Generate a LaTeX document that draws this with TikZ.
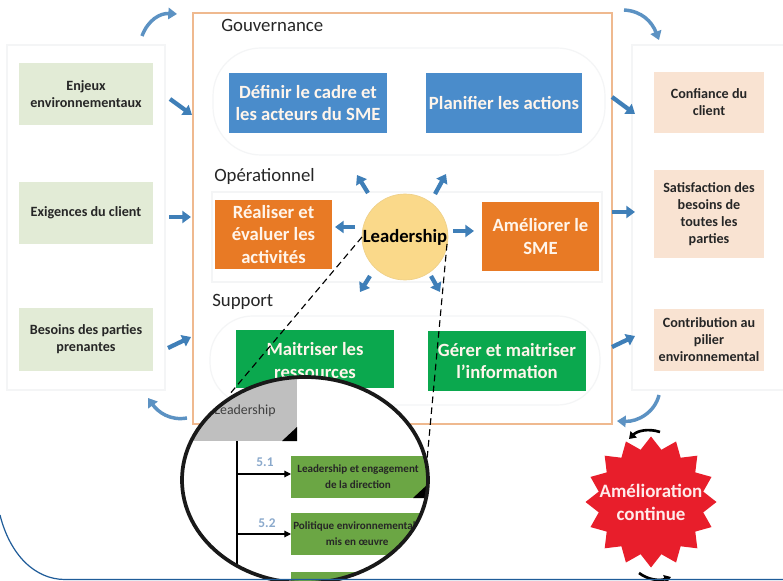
\documentclass[tikz,border=0pt]{standalone}
\usepackage{fontspec}
\setmainfont{Carlito}
\usetikzlibrary{arrows.meta,shapes.geometric,calc}
\definecolor{arrowblue}{HTML}{3F7FB8}
\definecolor{panelline}{HTML}{F4F5F6}
\definecolor{mainline}{HTML}{EFB98F}
\definecolor{paleGreen}{HTML}{E2EBD6}
\definecolor{paleOrange}{HTML}{F9E3D2}
\definecolor{boxBlue}{HTML}{4A8CCB}
\definecolor{boxOrange}{HTML}{E87A25}
\definecolor{boxGreen}{HTML}{0BA84E}
\definecolor{zoomGreen}{HTML}{6BA644}
\definecolor{numBlue}{HTML}{8AA9CC}
\definecolor{sunFill}{HTML}{FAD98A}
\definecolor{starRed}{HTML}{E81E2B}
\definecolor{edgeBlue}{HTML}{1F5C99}
\tikzset{
  x=0.75pt,y=-0.75pt,
  sz/.style n args={2}{minimum width=#1*0.75pt,minimum height=#2*0.75pt,inner sep=0pt,outer sep=0pt},
  panel/.style={draw=panelline,line width=0.9pt,fill=white},
  sidebox/.style={align=center,font=\fontsize{10.6}{12.8}\selectfont\bfseries,text=black!85},
  bigbox/.style={align=center,font=\fontsize{14}{17}\selectfont\bfseries,text=white!92!orange},
  heading/.style={anchor=west,inner sep=0pt,font=\fontsize{14.1}{16}\selectfont,text=black!85},
  blockarrow/.style={draw=arrowblue,line width=3.2pt,-{Triangle[length=6.5pt,width=9pt]}},
  curvearrow/.style={draw=arrowblue!85!white,line width=2.6pt,-{Triangle[length=6.5pt,width=8.5pt]}},
  blackcurve/.style={draw=black,line width=2pt,-{Triangle[length=5pt,width=6.5pt]}},
  zoomlink/.style={draw=black,line width=0.85pt,dash pattern=on 5pt off 3.2pt},
  branch/.style={draw=black,line width=0.85pt,-{Triangle[length=5pt,width=5pt]}},
  zoomtext/.style={align=center,font=\fontsize{8.3}{12}\selectfont\bfseries,text=black!85,inner sep=0pt},
  numtext/.style={font=\fontsize{10}{12}\selectfont\bfseries,text=numBlue,inner sep=0pt},
}
\begin{document}
\begin{tikzpicture}
\useasboundingbox (0,0) rectangle (783,581);
\fill[white] (0,0) rectangle (783,581);
% side panels
\node[panel,sz={158}{345}] (leftp) at (86,217.5) {};
\node[panel,sz={160}{345},anchor=west] (rightp) at (632,217.5) {};
% main frame
\node[draw=mainline,line width=1.4pt,fill=white,sz={419}{411}] (mainf) at (402.5,218.5) {};
% inner panels
\node[draw=panelline,line width=0.9pt,rounded corners=36pt,sz={392}{107}] (gouvp) at (409,101.5) {};
\node[draw=panelline,line width=0.9pt,sz={390}{90}] (opp) at (407,237) {};
\node[draw=panelline,line width=0.9pt,rounded corners=32pt,sz={390}{89}] (supp) at (405,360.5) {};
% headings
\node[heading] (h1) at (221,25) {Gouvernance};
\node[heading] (h2) at (214,176) {Opérationnel};
\node[heading] (h3) at (212,302) {Support};
% left boxes
\node[fill=paleGreen,sz={134}{62},sidebox] (l1) at (86,94) {Enjeux\\environnementaux};
\node[fill=paleGreen,sz={134}{62},sidebox] (l2) at (86,213) {Exigences du client};
\node[fill=paleGreen,sz={134}{63},sidebox] (l3) at (86,339.5) {Besoins des parties\\prenantes};
% right boxes
\node[fill=paleOrange,sz={110}{61},sidebox] (r1) at (709,102.5) {Confiance du\\client};
\node[fill=paleOrange,sz={110}{88},sidebox] (r2) at (709,214) {Satisfaction des\\besoins de\\toutes les\\parties};
\node[fill=paleOrange,sz={110}{62},sidebox] (r3) at (709,340) {Contribution au\\pilier\\environnemental};
% big boxes
\node[fill=boxBlue,sz={158}{60},bigbox] (b1) at (308,103) {Définir le cadre et\\les acteurs du SME};
\node[fill=boxBlue,sz={156}{60},bigbox] (b2) at (504,103) {Planifier les actions};
\node[fill=boxOrange,sz={117}{69},bigbox] (b3) at (273.5,234.5) {Réaliser et\\évaluer les\\activités};
\node[fill=boxOrange,sz={117}{69},bigbox] (b4) at (540.5,236.5) {Améliorer le\\SME};
\node[fill=boxGreen,sz={158}{58},anchor=north] (b5) at (315,330) {};
\node[anchor=north,align=center,inner sep=0pt,font=\fontsize{14}{17}\selectfont\bfseries,text=white!92!orange] (b5t) at (315,342) {Maitriser les\\ressources};
\node[fill=boxGreen,sz={158}{60},bigbox] (b6) at (507,361) {Gérer et maitriser\\l’information};
% centre
\node[circle,fill=sunFill,draw=sunFill!90!gray,line width=0.5pt,minimum size=86*0.75pt,inner sep=0pt] (lead) at (405,237) {};
\node[inner sep=0pt,font=\fontsize{14}{16}\selectfont\bfseries] (leadt) at (405,237) {Leadership};
% block arrows
\coordinate (a1s) at (170,99);  \coordinate (a1e) at (192,115);
\coordinate (a2s) at (169,217); \coordinate (a2e) at (191,217);
\coordinate (a3s) at (168,348); \coordinate (a3e) at (191,337);
\coordinate (a4s) at (612,97);  \coordinate (a4e) at (635,114);
\coordinate (a5s) at (612,212); \coordinate (a5e) at (635,212);
\coordinate (a6s) at (612,347); \coordinate (a6e) at (635,336);
\foreach \n in {1,...,6} \draw[blockarrow] (a\n s) -- (a\n e);
\coordinate (c1) at (355,227); \coordinate (c1e) at (335,227);
\coordinate (c2) at (453,231); \coordinate (c2e) at (474,231);
\coordinate (c3) at (368,193); \coordinate (c3e) at (357,175);
\coordinate (c4) at (435,194); \coordinate (c4e) at (446,174);
\coordinate (c5) at (370,276); \coordinate (c5e) at (360,292);
\coordinate (c6) at (431,276); \coordinate (c6e) at (440,292);
\foreach \n in {1,...,6} \draw[blockarrow] (c\n) -- (c\n e);
% curved arrows
\coordinate (k1) at (142,36);  \coordinate (k1e) at (177,14);
\coordinate (k2) at (624,10);  \coordinate (k2e) at (659,40);
\coordinate (k3) at (659,395); \coordinate (k3e) at (617,421);
\coordinate (k4) at (187,418); \coordinate (k4e) at (148,398);
\draw[curvearrow] (k1) .. controls (148,20) and (160,13) .. (k1e);
\draw[curvearrow] (k2) .. controls (642,11) and (652,22) .. (k2e);
\draw[curvearrow] (k3) .. controls (655,412) and (638,422) .. (k3e);
\draw[curvearrow] (k4) .. controls (170,421) and (158,412) .. (k4e);
% zoom lines
\coordinate (z1) at (362,237); \coordinate (z1e) at (229,395);
\coordinate (z2) at (447,244); \coordinate (z2e) at (427,460);
\draw[zoomlink] (z1) -- (z1e);
\draw[zoomlink] (z2) -- (z2e);
% magnifier
\fill[white] (305,480) ellipse [x radius=123,y radius=103];
\begin{scope}
\clip (305,480) ellipse [x radius=123,y radius=103];
\node[fill=black!25,sz={120}{66},anchor=south east] (gr) at (297,441) {};
\node[font=\fontsize{10.4}{12}\selectfont,text=black!75,inner sep=0pt] (grt) at (245,411) {Leadership};
\fill[black] (282,441) -- (297,441) -- (297,427) -- cycle;
\coordinate (tr) at (237,441); \coordinate (trb) at (237,585);
\draw[draw=black,line width=0.85pt] (tr) -- (trb);
\node[fill=zoomGreen,sz={150}{42},anchor=north west] (g1) at (291,456) {};
\node[zoomtext] (g1t) at (358,477) {Leadership et engagement\\de la direction};
\fill[black] (413,498) -- (428,498) -- (428,484) -- cycle;
\node[fill=zoomGreen,sz={150}{42},anchor=north west] (g2) at (291,513) {};
\node[zoomtext,anchor=west] (g2t) at (293,534) {\begin{tabular}{@{}c@{}}Politique environnementale\\mis en œuvre\end{tabular}};
\node[fill=zoomGreen,sz={150}{30},anchor=north west] (g3) at (291,572) {};
\coordinate (br1) at (237,474); \coordinate (br2) at (237,534);
\draw[branch] (br1) -- (g1.west|-br1);
\draw[branch] (br2) -- (g2.west|-br2);
\node[numtext] (n1) at (265,462) {5.1};
\node[numtext] (n2) at (267,523) {5.2};
\end{scope}
\draw[black!90,line width=2.8pt] (305,480) ellipse [x radius=123,y radius=103];
% star
\node[star,star points=16,star point ratio=1.23,fill=starRed,minimum size=131*0.75pt,inner sep=0pt] (star) at (651,502) {};
\node[align=center,inner sep=0pt,font=\fontsize{14.2}{17}\selectfont\bfseries,text=white!92!red] (start) at (651,502.5) {Amélioration\\continue};
\coordinate (s1) at (660,432); \coordinate (s1e) at (629,439);
\coordinate (s2) at (639,573); \coordinate (s2e) at (671,577);
\draw[blackcurve] (s1) .. controls (648,428) and (637,431) .. (s1e);
\draw[blackcurve] (s2) .. controls (648,580) and (660,581) .. (s2e);
% bottom edge curve
\coordinate (e0) at (0,515); \coordinate (e1) at (65,579.5); \coordinate (e2) at (783,579.5);
\draw[edgeBlue,line width=0.9pt] (e0) .. controls (10,555) and (35,579.5) .. (e1) -- (e2);
\end{tikzpicture}
\end{document}
